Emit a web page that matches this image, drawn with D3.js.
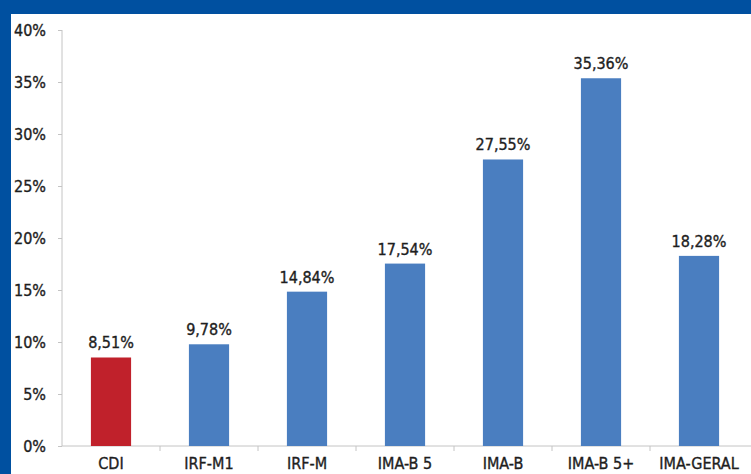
<!DOCTYPE html>
<html>
<head>
<meta charset="utf-8">
<script src="https://cdn.jsdelivr.net/npm/d3@7"></script>
<style>
  body { margin: 0; background: #0050a0; }
  svg { display: block; }
</style>
</head>
<body>
<div id="chart"></div>
<script>
// indices de renda fixa
var categories = ["CDI", "IRF-M1", "IRF-M", "IMA-B 5", "IMA-B", "IMA-B 5+", "IMA-GERAL"];
var values = [8.51, 9.78, 14.84, 17.54, 27.55, 35.36, 18.28];
var yTicks = [0, 5, 10, 15, 20, 25, 30, 35, 40];

var width = 751, height = 474;
var margin = { top: 30, left: 62, bottom: 28 };
var plotRight = 748;
var plotBottom = height - margin.bottom;

var svg = d3.select("#chart").append("svg")
    .attr("width", width)
    .attr("height", height);

svg.append("rect")
    .attr("x", 0).attr("y", 0)
    .attr("width", width).attr("height", height)
    .attr("fill", "#0050a0");

// painel branco
svg.append("rect")
    .attr("x", 11).attr("y", 14)
    .attr("width", width - 11).attr("height", height - 14)
    .attr("fill", "#ffffff");

var x = d3.scaleBand()
    .domain(categories)
    .range([margin.left, plotRight])
    .paddingInner(0.59)
    .paddingOuter(0.295);

var y = d3.scaleLinear()
    .domain([0, 40])
    .range([plotBottom, margin.top]);

var fmt = function (v) { return v.toFixed(2).replace(".", ",") + "%"; };

function textStyle(sel) {
    sel.attr("font-family", "DejaVu Sans Condensed")
        .attr("font-size", "16px")
        .attr("fill", "#1e1e1e")
        .attr("stroke", "#1e1e1e")
        .attr("stroke-width", 0.35);
}

// eixo y
var yAxis = svg.append("g")
    .attr("transform", "translate(" + margin.left + ",0)")
    .call(d3.axisLeft(y).tickValues(yTicks).tickSize(4).tickPadding(12)
        .tickFormat(function (d) { return d + "%"; }));
yAxis.select(".domain").attr("stroke", "#c4c4c4").attr("d", "M0," + y(40) + "V" + y(0));
yAxis.selectAll(".tick line").attr("stroke", "#c4c4c4");
yAxis.selectAll(".tick text").call(textStyle);

// eixo x
var gap = (x.step() - x.bandwidth()) / 2;
var xAxis = svg.append("g")
    .attr("transform", "translate(0," + plotBottom + ")");
xAxis.append("line")
    .attr("x1", margin.left).attr("x2", width)
    .attr("stroke", "#c4c4c4");
xAxis.selectAll(".sep")
    .data(categories.slice(1))
    .enter().append("line")
    .attr("class", "sep")
    .attr("x1", function (d) { return x(d) - gap; })
    .attr("x2", function (d) { return x(d) - gap; })
    .attr("y1", 0).attr("y2", 5)
    .attr("stroke", "#c4c4c4");
xAxis.selectAll(".lbl")
    .data(categories)
    .enter().append("text")
    .attr("class", "lbl")
    .attr("x", function (d) { return x(d) + x.bandwidth() / 2; })
    .attr("y", 23)
    .attr("text-anchor", "middle")
    .call(textStyle)
    .text(function (d) { return d; });

// barras
svg.selectAll(".bar")
    .data(values)
    .enter().append("rect")
    .attr("class", "bar")
    .attr("x", function (d, i) { return x(categories[i]); })
    .attr("width", x.bandwidth())
    .attr("y", function (d) { return y(d); })
    .attr("height", function (d) { return plotBottom - y(d); })
    .attr("fill", function (d, i) { return i === 0 ? "#c0212b" : "#4a7ec0"; });

svg.selectAll(".val")
    .data(values)
    .enter().append("text")
    .attr("class", "val")
    .attr("x", function (d, i) { return x(categories[i]) + x.bandwidth() / 2; })
    .attr("y", function (d) { return y(d) - 9; })
    .attr("text-anchor", "middle")
    .call(textStyle)
    .text(fmt);
</script>
</body>
</html>
